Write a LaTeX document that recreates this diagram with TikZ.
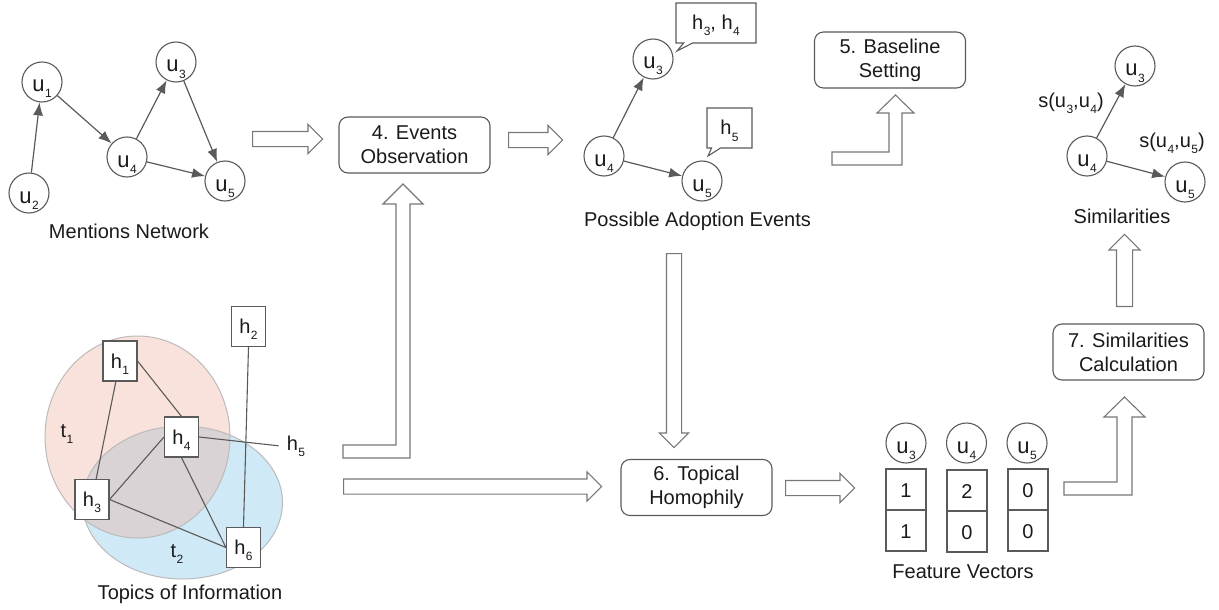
\documentclass[tikz,border=0pt]{standalone}
\usepackage{fontspec}
\setmainfont{Liberation Sans}
\usetikzlibrary{arrows.meta,shapes.arrows,shapes.callouts,calc}
\definecolor{linec}{HTML}{5A5A5A}
\definecolor{arrc}{HTML}{777777}
\definecolor{pinkf}{HTML}{FAE2DC}
\definecolor{bluef}{HTML}{CFE9F6}
\definecolor{overf}{HTML}{D9D3D5}
\definecolor{ellc}{HTML}{BBBBBB}
\definecolor{txt}{HTML}{1A1A1A}
\newcommand\sbs[1]{\kern0.5pt\raisebox{-6pt}{\fontsize{12}{12}\selectfont #1}}
\tikzset{
 unode/.style={circle, draw=linec, line width=1.1pt, minimum size=40pt, inner sep=0pt, text=txt, font=\fontsize{22}{22}\selectfont, text height=20pt, text depth=0pt},
 hbox/.style={rectangle, draw=linec, line width=1.1pt, fill=white, minimum width=34pt, minimum height=40pt, inner sep=0pt, text=txt, font=\fontsize{20}{20}\selectfont, text height=14pt, text depth=0pt},
 cell/.style={rectangle, draw=linec, line width=1.1pt, minimum width=40pt, minimum height=41pt, inner sep=0pt, text=txt, font=\fontsize{20}{20}\selectfont, text height=15pt, text depth=0pt},
 proc/.style={rectangle, rounded corners=9pt, draw=linec, line width=1.1pt, minimum width=151pt, minimum height=56pt, align=center, text=txt, font=\fontsize{20}{24}\selectfont},
 lbl/.style={anchor=base, inner sep=0pt, text=txt, font=\fontsize{20}{24}\selectfont},
 edge/.style={draw=linec, line width=1.2pt, -{Latex[length=13pt,width=10pt]}},
 plain/.style={draw=linec, line width=1.1pt},
 barrow/.style={single arrow, draw=arrc, line width=1.1pt, fill=white, inner sep=7pt, single arrow head extend=7pt, single arrow tip angle=90, anchor=tail},
 lshape/.style={draw=arrc, line width=1.1pt, fill=white, line join=miter},
 bubble/.style={rectangle callout, draw=linec, line width=1.1pt, fill=white, inner sep=0pt, text=txt, font=\fontsize{20}{20}\selectfont, text height=14pt, text depth=0pt, callout pointer width=9pt},
}
\begin{document}
\begin{tikzpicture}[x=1pt,y=-1pt]
\useasboundingbox (0,0) rectangle (1219,610);
% ---------- Mentions network
\node[unode] (mu1) at (42,82) {u\sbs{1}};
\node[unode] (mu2) at (29,193) {u\sbs{2}};
\node[unode] (mu3) at (176,62) {u\sbs{3}};
\node[unode] (mu4) at (127,157) {u\sbs{4}};
\node[unode] (mu5) at (225,181) {u\sbs{5}};
\draw[edge] (mu2) -- (mu1);
\draw[edge] (mu1) -- (mu4);
\draw[edge] (mu4) -- (mu3);
\draw[edge] (mu3) -- (mu5);
\draw[edge] (mu4) -- (mu5);
\node[lbl] (mlab) at (129,238) {Mentions Network};
% ---------- Topics of information
\fill[pinkf] (137.5,437) ellipse [x radius=92.5, y radius=101];
\fill[bluef] (182.5,502.5) ellipse [x radius=100, y radius=76.5];
\begin{scope}
\clip (137.5,437) ellipse [x radius=92.5, y radius=101];
\fill[overf] (182.5,502.5) ellipse [x radius=100, y radius=76.5];
\end{scope}
\draw[ellc, line width=1pt] (137.5,437) ellipse [x radius=92.5, y radius=101];
\draw[ellc, line width=1pt] (182.5,502.5) ellipse [x radius=100, y radius=76.5];
\node[lbl] (t1) at (67,437) {t\sbs{1}};
\node[lbl] (t2) at (177,557) {t\sbs{2}};
\node[hbox] (h1) at (120,361) {h\sbs{1}};
\node[hbox] (h2) at (248.5,326.5) {h\sbs{2}};
\node[hbox] (h3) at (92,499.5) {h\sbs{3}};
\node[hbox] (h4) at (181.5,437) {h\sbs{4}};
\node[hbox] (h6) at (243.5,547.5) {h\sbs{6}};
\node[lbl, inner xsep=8pt] (h5) at (296,450) {h\sbs{5}};
\draw[plain] (h1) -- (h3);
\draw[plain] (h1.east) -- (h4.north);
\draw[plain] (h4.west) -- (h3.east);
\draw[plain] (h3.east) -- (h6.west);
\draw[plain] (h4.south) -- (h6.west);
\draw[plain] (h2.south) -- (h6.north);
\draw[plain] (h4.east) -- (h5.west);
\node[lbl] (tlab) at (190,599) {Topics of Information};
% ---------- Events observation
\node[barrow, minimum height=70pt] (ba1) at (252,139) {};
\node[proc] (eo) at (414.5,145) {4. Events\\Observation};
\node[barrow, minimum height=54pt] (ba2) at (508,140) {};
\draw[lshape] (343,445) -- (396,445) -- (396,204) -- (383,204) -- (403,184) -- (423,204) -- (410,204) -- (410,458) -- (343,458) -- cycle;
% ---------- Possible adoption events
\node[unode] (pu3) at (653,59) {u\sbs{3}};
\node[unode] (pu4) at (604,156) {u\sbs{4}};
\node[unode] (pu5) at (702,181) {u\sbs{5}};
\draw[edge] (pu4) -- (pu3);
\draw[edge] (pu4) -- (pu5);
\node[bubble, minimum width=80pt, minimum height=40pt, callout absolute pointer={($(pu3)+(24,-8)$)}] (b1) at (716,23) {h\sbs{3}, h\sbs{4}};
\node[bubble, minimum width=45pt, minimum height=40pt, callout absolute pointer={($(pu5)+(6,-25)$)}] (b2) at (729.5,128) {h\sbs{5}};
\node[lbl] (plab) at (697.5,226) {Possible Adoption Events};
% ---------- Baseline
\node[proc] (bs) at (890,60) {5. Baseline\\Setting};
\draw[lshape] (832,152) -- (889,152) -- (889,113) -- (877,113) -- (895.5,95) -- (914,113) -- (902,113) -- (902,165) -- (832,165) -- cycle;
% ---------- Topical homophily
\node[barrow, minimum height=194pt, rotate=-90] (ba5) at (674,253) {};
\node[proc] (th) at (696.5,487.5) {6. Topical\\Homophily};
\node[barrow, minimum height=258pt] (ba4) at (343,486.5) {};
\node[barrow, minimum height=69pt] (ba3) at (785,488) {};
% ---------- Feature vectors
\node[unode] (fu3) at (906,443) {u\sbs{3}};
\node[unode] (fu4) at (966.5,443) {u\sbs{4}};
\node[unode] (fu5) at (1027,443) {u\sbs{5}};
\node[cell] (c31) at (906,489.5) {1};
\node[cell] (c32) at (906,530.5) {1};
\node[cell] (c41) at (967,490.5) {2};
\node[cell] (c42) at (967,531.5) {0};
\node[cell] (c51) at (1028,489.5) {0};
\node[cell] (c52) at (1028,530.5) {0};
\node[lbl] (flab) at (963,578) {Feature Vectors};
% ---------- Similarities calculation
\draw[lshape] (1064,482) -- (1117,482) -- (1117,417) -- (1104,417) -- (1124.5,397) -- (1145,417) -- (1132,417) -- (1132,495) -- (1064,495) -- cycle;
\node[proc] (sc) at (1128.5,352) {7. Similarities\\Calculation};
\node[barrow, minimum height=72pt, rotate=90, inner sep=7.5pt, single arrow head extend=7.5pt] (ba6) at (1124.5,307) {};
% ---------- Similarities
\node[unode] (su3) at (1135,66) {u\sbs{3}};
\node[unode] (su4) at (1087,156) {u\sbs{4}};
\node[unode] (su5) at (1185,182) {u\sbs{5}};
\draw[edge] (su4) -- (su3);
\draw[edge] (su4) -- (su5);
\node[lbl] (s34) at (1071,107) {s(u\sbs{3},u\sbs{4})};
\node[lbl] (s45) at (1172,147) {s(u\sbs{4},u\sbs{5})};
\node[lbl] (slab) at (1122,223) {Similarities};
\end{tikzpicture}
\end{document}
